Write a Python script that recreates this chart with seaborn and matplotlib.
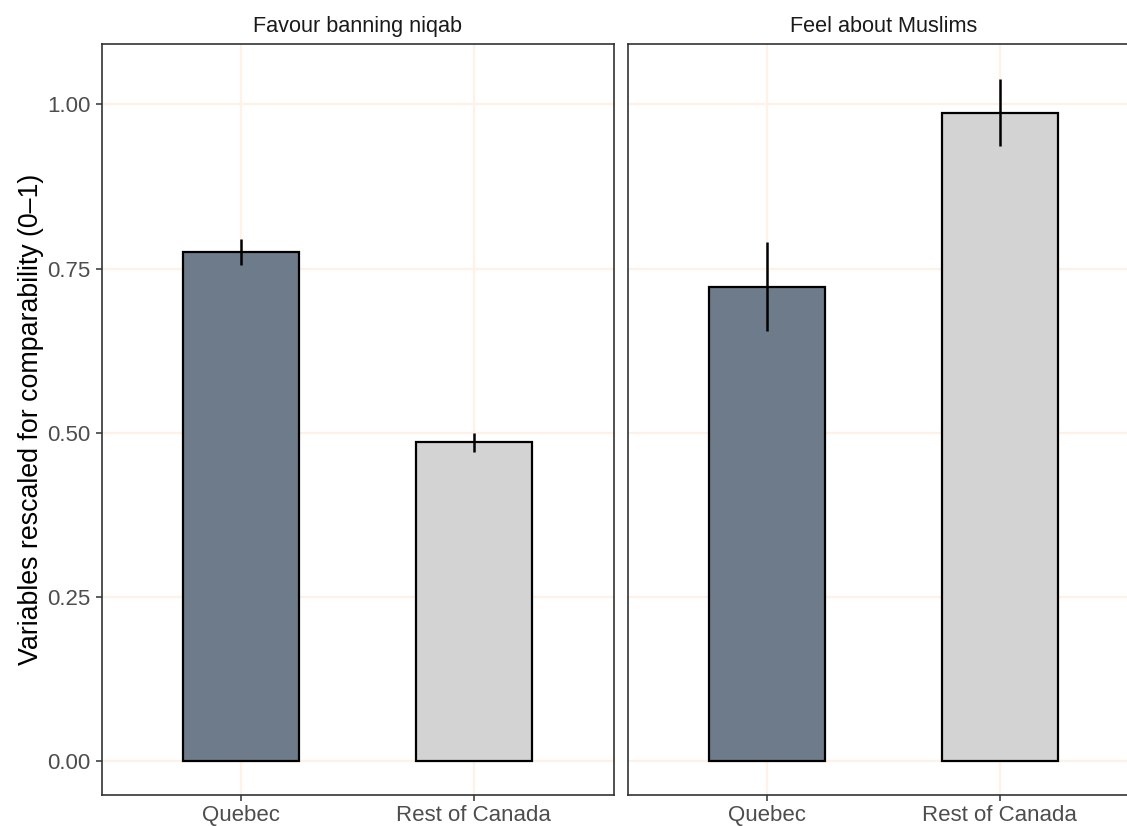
import matplotlib
matplotlib.use("Agg")
import matplotlib.pyplot as plt
import seaborn as sns
import pandas as pd

# Survey estimates, rescaled 0-1, with 95% interval bounds
regions = ["Quebec", "Rest of Canada"]
panels = ["Favour banning niqab", "Feel about Muslims"]
niqab_mean = [0.775, 0.486]
niqab_low = [0.755, 0.470]
niqab_high = [0.795, 0.500]
muslims_mean = [0.722, 0.987]
muslims_low = [0.655, 0.936]
muslims_high = [0.790, 1.039]
yticks = [0.00, 0.25, 0.50, 0.75, 1.00]
ytick_labels = ["0.00", "0.25", "0.50", "0.75", "1.00"]
bar_colors = {"Quebec": "#6E7B8B", "Rest of Canada": "#D3D3D3"}

df = pd.DataFrame({
    "panel": [panels[0]] * 2 + [panels[1]] * 2,
    "region": regions * 2,
    "value": niqab_mean + muslims_mean,
    "low": niqab_low + muslims_low,
    "high": niqab_high + muslims_high,
})

sns.set_theme(style="white")
plt.rcParams["font.family"] = ["Liberation Sans", "DejaVu Sans"]

fig = plt.figure(figsize=(11.27, 8.26), dpi=100)
W, H = 1127, 826
top, bottom = 44, 795
axes = [
    fig.add_axes([101.5 / W, (H - bottom) / H, 512 / W, (bottom - top) / H]),
    fig.add_axes([627.5 / W, (H - bottom) / H, 512 / W, (bottom - top) / H]),
]

grid_col = "#FDF1E8"
for i, (ax, panel) in enumerate(zip(axes, panels)):
    sub = df[df["panel"] == panel].reset_index(drop=True)
    ax.set_facecolor("white")
    for y in yticks:
        ax.axhline(y, color=grid_col, lw=1.6, zorder=0)
    for x in range(len(regions)):
        ax.axvline(x, color=grid_col, lw=1.6, zorder=0)
    sns.barplot(data=sub, x="region", y="value", hue="region", order=regions,
                hue_order=regions, palette=bar_colors, width=0.5, dodge=False,
                saturation=1, edgecolor="black", linewidth=1.6, errorbar=None,
                legend=False, ax=ax, zorder=2)
    ax.vlines(range(len(sub)), sub["low"], sub["high"], color="black",
              lw=1.8, zorder=3)
    ax.set_xlim(-0.6, 1.6)
    ax.set_ylim(-0.052, 1.092)
    ax.set_yticks(yticks)
    ax.set_xlabel("")
    ax.set_ylabel("")
    ax.grid(False)
    for s in ax.spines.values():
        s.set_visible(True)
        s.set_color("#333333")
        s.set_linewidth(1.2)
    ax.tick_params(axis="x", bottom=True, length=4, width=1.1, color="#333333",
                   labelsize=16, labelcolor="#4D4D4D", pad=3.5)
    if i == 0:
        ax.set_yticklabels(ytick_labels)
        ax.tick_params(axis="y", left=True, length=4, width=1.1, color="#333333",
                       labelsize=16, labelcolor="#4D4D4D", pad=4)
    else:
        ax.tick_params(axis="y", left=False, labelleft=False)
    ax.set_title(panel, fontsize=15.6, color="#1A1A1A", pad=8.5)

axes[0].set_ylabel("Variables rescaled for comparability (0\u20131)",
                   fontsize=19.3, color="black", labelpad=2)

fig.savefig("out.png", dpi=100)
